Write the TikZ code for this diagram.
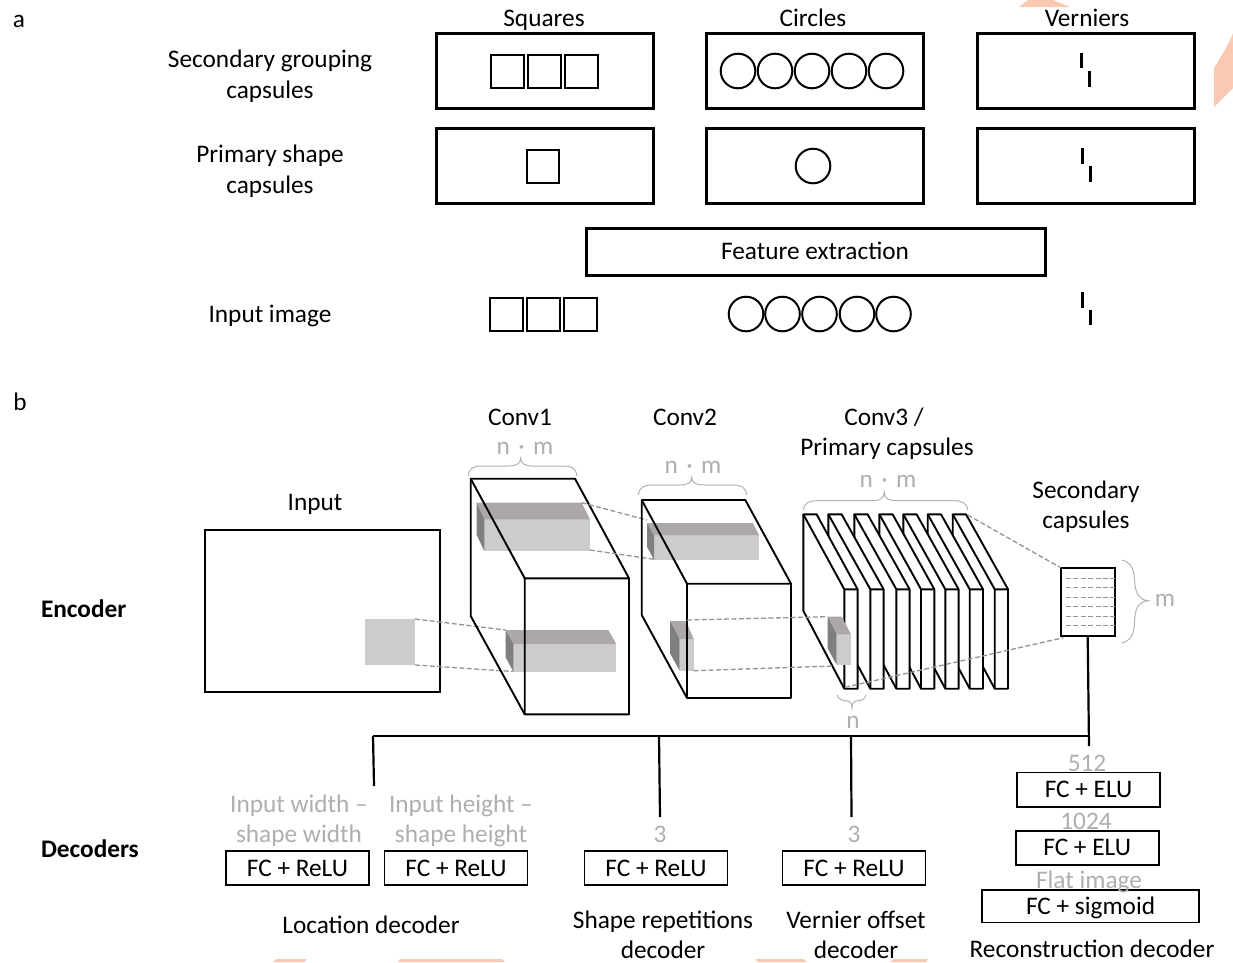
\documentclass[tikz,border=0pt]{standalone}
\usepackage{fontspec}
\setmainfont{Carlito}
\usetikzlibrary{calc}
\definecolor{lab}{HTML}{B0AEAE}
\definecolor{gfront}{HTML}{CDCBCB}
\definecolor{gtop}{HTML}{ABA8A7}
\definecolor{gside}{HTML}{7F7F7F}
\definecolor{wm}{HTML}{FBC9B2}
\tikzset{
  x=1pt,y=-1pt,
  every node/.style={font=\fontsize{25.3}{30}\selectfont,inner sep=0pt,outer sep=0pt,text height=17pt,text depth=1pt},
  txt/.style={anchor=center},
  graytxt/.style={anchor=center,text=lab},
  boldtxt/.style={anchor=west,font=\fontsize{25.3}{30}\selectfont\bfseries},
  panel/.style={draw,line width=3pt,minimum width=217pt,minimum height=75pt,anchor=north west},
  fc/.style={draw,line width=1.6pt,anchor=center},
  shp/.style={draw,line width=2pt},
  bar/.style={line width=2.6pt},
  cube/.style={draw,line width=1.9pt,line join=round},
  dashline/.style={draw=black!42,line width=1.3pt,dash pattern=on 5pt off 2.4pt},
  brc/.style={draw=black!30,line width=1pt},
  bus/.style={draw,line width=2.2pt},
}
\newcommand{\hbrc}[6]{% x1 x2 yb ym xt yt
  \draw[brc] (#1,#3) .. controls (#1+1,#4+2) and (#1+6,#4) .. (#1+14,#4) -- (#5-13,#4)
    .. controls (#5-4,#4) and (#5,#4-2) .. (#5,#6)
    .. controls (#5,#4-2) and (#5+4,#4) .. (#5+13,#4) -- (#2-14,#4)
    .. controls (#2-6,#4) and (#2-1,#4+2) .. (#2,#3);}
\newcommand{\gbox}[8]{% xa xb(top back) xc xd (front x l r) y1 y2 (top) y3 (front bottom) y4 (side bottom)
  \fill[gfront] (#3,#6) rectangle (#4,#7);
  \fill[gtop] (#1,#5) -- (#2,#5) -- (#4,#6) -- (#3,#6) -- cycle;
  \fill[gside] (#1,#5) -- (#3,#6) -- (#3,#7) -- (#1,#8) -- cycle;}
\newcommand{\sqrow}[4]{\foreach \x in {#1,#2,#3} {\draw[shp] (\x,#4) rectangle +(33,33);}}
\newcommand{\slab}[2]{% back left x, front left x
  \filldraw[cube,fill=white] (#1,514.3) -- (#1+13.3,514.3) -- (#2+13.3,589.3) -- (#2+13.3,688.7) -- (#2,688.7) -- (#1,610.7) -- cycle;
  \draw[cube] (#1,514.3) -- (#2,589.3) -- (#2+13.3,589.3) (#2,589.3) -- (#2,688.7);}
\begin{document}
\begin{tikzpicture}
\useasboundingbox (0,0) rectangle (1233,962);
\fill[white] (0,0) rectangle (1233,962);
% faint background fragments
\fill[wm] (1019,7) -- (1028,0) -- (1053,0) -- (1070,7) -- cycle;
\fill[wm] (1214,68) .. controls (1222,55) and (1230,42) .. (1233,33) -- (1233,88) -- (1214,107) -- cycle;
\fill[wm] (273,962) -- (277,959) -- (307,959) -- (304,962) -- cycle;
\fill[wm] (398,962) -- (400,959) -- (502,959) -- (505,962) -- cycle;
\fill[wm] (755,959) -- (803,959) -- (807,962) -- (758,962) -- cycle;
\fill[wm] (890,962) -- (894,959) -- (928,959) -- (926,962) -- cycle;
% panel a
\node[txt] (la) at (19,19) {a};
\node[txt] (tsq) at (544,18) {Squares};
\node[txt] (tci) at (813,18) {Circles};
\node[txt] (tve) at (1087,18) {Verniers};
\node[txt] (ls1) at (270,59) {Secondary grouping};
\node[txt] (ls2) at (270,90) {capsules};
\node[txt] (lp1) at (270,154) {Primary shape};
\node[txt] (lp2) at (270,185) {capsules};
\node[txt] (li) at (270,314) {Input image};
\foreach \n/\x/\y in {a/436/33,b/706/33,c/977/33,d/436/128,e/706/128,f/977/128}
  {\node[panel] (box\n) at (\x,\y) {};}
\node[panel,minimum width=459pt,minimum height=47pt] (feat) at (586,228) {};
\node[txt] (featt) at (815,251) {Feature extraction};
\sqrow{491}{528}{565}{54.5}
\draw[shp] (526.5,150) rectangle +(32.5,32.5);
\sqrow{490}{527}{564}{298}
\foreach \x in {738,775,812,849,886} {\draw[shp] (\x,71) circle (17.3);}
\draw[shp] (813,166) circle (17.3);
\foreach \x in {746,782.5,819.5,857,893.5} {\draw[shp] (\x,314) circle (17.3);}
\draw[bar] (1081.7,52.5) -- (1081.7,68) (1089.3,71) -- (1089.3,86.5);
\draw[bar] (1082.5,148) -- (1082.5,164) (1090.6,166) -- (1090.6,182);
\draw[bar] (1082.5,292) -- (1082.5,308) (1090.5,310) -- (1090.5,325);
% panel b
\node[txt] (lb) at (20,402) {b};
\node[txt] (tin) at (315,502) {Input};
\node[txt] (tc1) at (520,417) {Conv1};
\node[txt] (tc2) at (685,417) {Conv2};
\node[txt] (tc3a) at (884,417) {Conv3 /};
\node[txt] (tc3b) at (887,447) {Primary capsules};
\node[txt] (tse1) at (1086,490) {Secondary};
\node[txt] (tse2) at (1086,520) {capsules};
\node[boldtxt] (tenc) at (41,609) {Encoder};
\node[boldtxt] (tdec) at (41,849) {Decoders};
\node[graytxt] (nm1) at (525,446.5) {n\,\,·\,\,m};
\node[graytxt] (nm2) at (693,465.5) {n\,\,·\,\,m};
\node[graytxt] (nm3) at (888,479.5) {n\,\,·\,\,m};
\node[graytxt] (n3) at (853,720.5) {n};
\node[graytxt] (m4) at (1165,598.5) {m};
\hbrc{468}{577}{476}{466}{520.7}{457}
\hbrc{638.3}{746.7}{495}{485}{691.7}{477}
\hbrc{803.3}{967.7}{510}{500.7}{884.3}{492}
\draw[brc] (837.3,695) .. controls (838,699) and (842,700.7) .. (846,700.7) .. controls (850,700.7) and (852,703) .. (852,708)
  .. controls (852,703) and (854,700.7) .. (858,700.7) .. controls (862,700.7) and (865,699) .. (866,695);
\draw[brc] (1121.7,560) .. controls (1128,561) and (1133,566) .. (1134,575) -- (1135,585) .. controls (1136,594) and (1140,600) .. (1148,600.7)
  .. controls (1140,601) and (1136,607) .. (1135,616) -- (1134,628) .. controls (1133,637) and (1128,642) .. (1121.7,643);
% input
\node[draw,line width=1.9pt,anchor=north west,minimum width=235pt,minimum height=162pt] (inp) at (205,530) {};
\fill[gfront] (365,619) rectangle (415,665);
\coordinate (i1) at (415,619); \coordinate (i2) at (415,665);
% conv1
\gbox{476.7}{581.7}{484.3}{590}{502.7}{519.3}{551}{535}
\gbox{505.7}{608.3}{513.3}{616.3}{630}{644}{671.7}{657.3}
\draw[dashline] (i1) -- (505.7,630);
\draw[dashline] (i2) -- (513.3,671.5);
\draw[cube] (470.7,616) -- (470.7,478.7) -- (575,478.7) -- (629,578.3) -- (629,714.3) -- (524.7,714.3) -- (524.7,578.3) -- (629,578.3);
\draw[cube] (470.7,478.7) -- (524.7,578.3) (470.7,616) -- (524.7,714.3);
% conv2
\gbox{647}{752.7}{654}{759.3}{523}{535.7}{560}{546.7}
\gbox{670}{686}{679.7}{693.7}{621}{639}{670.7}{653.3}
\draw[dashline] (581.7,502.7) -- (647,520);
\draw[dashline] (590,550) -- (654,559.3);
\draw[cube] (641.7,615) -- (641.7,500) -- (745.3,500) -- (791,583.7) -- (791,698) -- (687,698) -- (687,583.7) -- (791,583.7);
\draw[cube] (641.7,500) -- (687,583.7) (641.7,615) -- (687,698);
% conv3
\slab{952.7}{994.7}
\slab{927.7}{969.7}
\slab{903.3}{945.3}
\slab{879.3}{921}
\slab{854.3}{896.3}
\slab{828.3}{870.3}
\slab{803.3}{844.3}
\gbox{827.7}{841.7}{836.7}{851}{616.7}{634.3}{665}{648.3}
\draw[dashline] (687,620) -- (827.7,616.7);
\draw[dashline] (693.7,670.7) -- (833,666);
% secondary
\node[draw,line width=1.6pt,anchor=north west,minimum width=54.3pt,minimum height=68.3pt] (sec) at (1060.7,567.7) {};
\foreach \y in {578.3,587.7,597,606,616,625.7} {\draw[dashline,line width=1pt] (1066,\y) -- (1115,\y);}
\draw[dashline] (967.7,515) -- (sec.north west);
\draw[dashline] (845,687.3) -- (1063.3,637.7);
% decoders
\node[fc,minimum width=143pt,minimum height=34pt] (d1) at (297.5,868) {FC + ReLU};
\node[fc,minimum width=143pt,minimum height=34pt] (d2) at (456,868) {FC + ReLU};
\node[fc,minimum width=143pt,minimum height=34pt] (d3) at (656,868) {FC + ReLU};
\node[fc,minimum width=143pt,minimum height=34pt] (d4) at (854,868) {FC + ReLU};
\node[fc,minimum width=143pt,minimum height=34.4pt] (e1) at (1088.6,789.5) {FC + ELU};
\node[fc,minimum width=143pt,minimum height=34.4pt] (e2) at (1087.2,847.9) {FC + ELU};
\node[fc,minimum width=217.3pt,minimum height=32.6pt] (e3) at (1090.6,906) {FC + sigmoid};
\node[graytxt] (g1a) at (299,804) {Input width –};
\node[graytxt] (g1b) at (299,834) {shape width};
\node[graytxt] (g2a) at (461,804) {Input height –};
\node[graytxt] (g2b) at (461,834) {shape height};
\node[graytxt] (g3) at (660,834) {3};
\node[graytxt] (g4) at (854,834) {3};
\node[graytxt] (g5) at (1087,763) {512};
\node[graytxt] (g6) at (1086,821) {1024};
\node[graytxt] (g7) at (1089,880) {Flat image};
\node[txt] (t1) at (371,925) {Location decoder};
\node[txt] (t2a) at (663,920) {Shape repetitions};
\node[txt] (t2b) at (663,950) {decoder};
\node[txt] (t3a) at (856,920) {Vernier offset};
\node[txt] (t3b) at (856,950) {decoder};
\node[txt] (t4) at (1092,949) {Reconstruction decoder};
% bus
\coordinate (bl) at (373,736);
\coordinate (bm) at (659,736);
\coordinate (bv) at (851,736);
\coordinate (br) at (1089,736);
\draw[bus] (bl) -- (bm) -- (bv) -- (br);
\draw[bus] (bl) -- (374,786);
\draw[bus] (bm) -- (660,817);
\draw[bus] (bv) -- (851.5,817);
\draw[bus] (sec.south -| 1087.7,636) -- (1089,746);
\end{tikzpicture}
\end{document}
